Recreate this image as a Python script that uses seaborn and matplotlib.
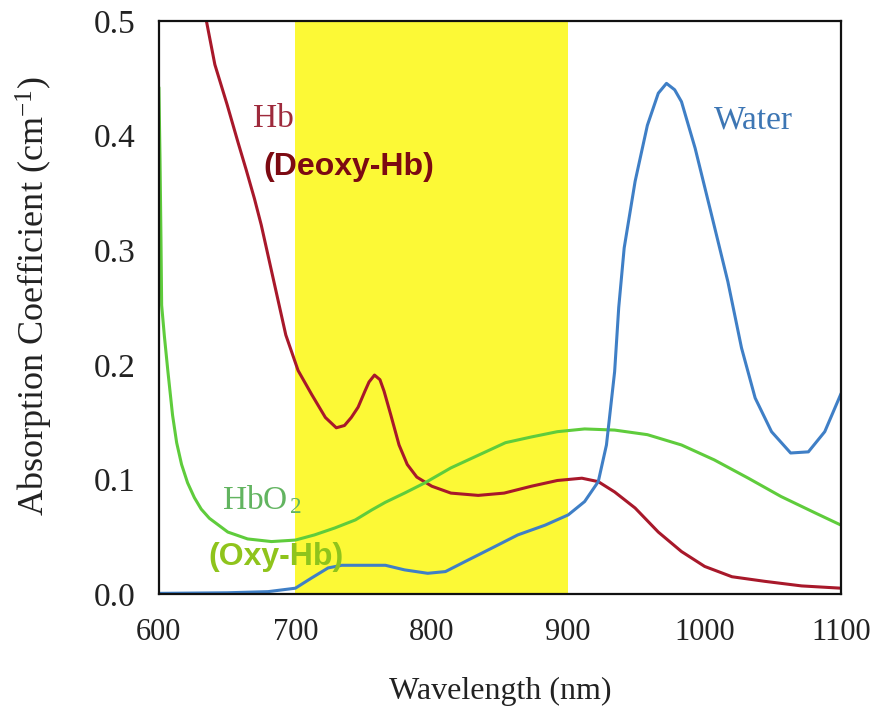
import matplotlib
matplotlib.use("Agg")
import matplotlib.pyplot as plt
import seaborn as sns

# --- data ---
hb_nm = [634, 641, 650, 658, 664, 670, 675, 681, 687, 693, 702, 712, 722, 730, 736, 741, 746, 751,
         754, 758, 762, 765, 770, 776, 782, 789, 800, 814, 834, 853, 873, 892, 910, 922, 934, 949,
         966, 983, 1000, 1020, 1044, 1071, 1100]
hb_val = [0.505, 0.462, 0.427, 0.394, 0.370, 0.345, 0.322, 0.290, 0.258, 0.226, 0.195, 0.174, 0.154,
          0.145, 0.147, 0.154, 0.163, 0.177, 0.185, 0.191, 0.187, 0.177, 0.156, 0.130, 0.113, 0.102,
          0.094, 0.088, 0.086, 0.088, 0.094, 0.099, 0.101, 0.098, 0.089, 0.075, 0.054, 0.037, 0.024,
          0.015, 0.011, 0.007, 0.005]

hbo2_nm = [600, 600.8, 601.5, 602, 604, 606.6, 610, 613, 616.6, 621, 626, 631, 637, 650.5, 665,
           682.5, 700, 714, 729, 744, 756, 766, 780, 795, 814, 834, 854, 873, 892, 912, 934, 958,
           983, 1007, 1032, 1056, 1081, 1100]
hbo2_val = [0.442, 0.38, 0.31, 0.252, 0.225, 0.194, 0.156, 0.132, 0.113, 0.097, 0.084, 0.074, 0.066,
            0.054, 0.048, 0.0457, 0.047, 0.0515, 0.0576, 0.0646, 0.0733, 0.080, 0.088, 0.097, 0.110,
            0.121, 0.132, 0.137, 0.1416, 0.144, 0.143, 0.139, 0.130, 0.117, 0.101, 0.085, 0.0707, 0.060]

water_nm = [600, 650, 680, 700, 712, 724, 734, 750, 766, 780, 797, 810, 824, 844, 863, 883, 900, 912,
            922, 928, 934, 937, 941, 949, 958, 966, 972, 978, 983, 993, 1005, 1017, 1027, 1037, 1049,
            1063, 1076, 1088, 1100]
water_val = [0.0005, 0.001, 0.002, 0.005, 0.014, 0.0227, 0.025, 0.025, 0.025, 0.021, 0.018, 0.0195,
             0.028, 0.040, 0.0515, 0.060, 0.069, 0.0806, 0.098, 0.130, 0.194, 0.25, 0.302, 0.360,
             0.409, 0.437, 0.4456, 0.440, 0.4296, 0.389, 0.331, 0.2725, 0.2147, 0.171, 0.1416, 0.123,
             0.124, 0.1416, 0.175]

window = (700, 900)
x_ticks = [600, 700, 800, 900, 1000, 1100]
y_ticks = [0.0, 0.1, 0.2, 0.3, 0.4, 0.5]

sns.set_theme(style="white")
plt.rcParams['font.family'] = ['Liberation Serif', 'DejaVu Serif']
plt.rcParams['mathtext.fontset'] = 'custom'
plt.rcParams['mathtext.rm'] = 'Liberation Serif'
plt.rcParams['mathtext.it'] = 'Liberation Serif:italic'

fig = plt.figure(figsize=(8.78, 7.13), dpi=100)
ax = fig.add_axes([0.181, 0.167, 0.777, 0.8035])

ax.axvspan(*window, color='#fcf936', zorder=0, lw=0)

sns.lineplot(x=hb_nm, y=hb_val, color='#a8182a', linewidth=2.2, ax=ax)
sns.lineplot(x=hbo2_nm, y=hbo2_val, color='#5fcc3c', linewidth=2.2, ax=ax)
sns.lineplot(x=water_nm, y=water_val, color='#3f7fc6', linewidth=2.2, ax=ax)

ax.set_xlim(600, 1100)
ax.set_ylim(0, 0.5)
ax.set_xticks(x_ticks)
ax.set_yticks(y_ticks)
ax.set_yticklabels([f"{v:.1f}" for v in y_ticks])
ax.tick_params(axis='both', direction='in', length=7, width=1.5, colors='#222222',
               top=False, right=False)
ax.tick_params(axis='x', pad=17, labelsize=22)
ax.tick_params(axis='y', pad=17, labelsize=24)

for s in ax.spines.values():
    s.set_color('#111111')
    s.set_linewidth(1.6)

ax.set_xlabel('Wavelength (nm)', fontsize=23, color='#222222')
ax.set_ylabel('Absorption Coefficient (cm$^{-1}$)', fontsize=26, color='#222222')
ax.xaxis.set_label_coords(0.5, -0.145)
ax.yaxis.set_label_coords(-0.152, 0.52)

# curve labels
ax.text(684, 0.415, 'Hb', fontsize=24, color='#9e2a3c', ha='center', va='center')
ax.text(739, 0.373, '(Deoxy-Hb)', fontsize=23, color='#7c0a12', ha='center', va='center',
        family='Liberation Sans', fontweight='bold')
ax.text(1036, 0.413, 'Water', fontsize=24, color='#3d76b4', ha='center', va='center')
ax.text(646, 0.082, 'HbO$_{\\,2}$', fontsize=24, color='#62b460', ha='left', va='center')
ax.text(686, 0.032, '(Oxy-Hb)', fontsize=23, color='#8fc41c', ha='center', va='center',
        family='Liberation Sans', fontweight='bold')

fig.savefig('out.png', dpi=100)
